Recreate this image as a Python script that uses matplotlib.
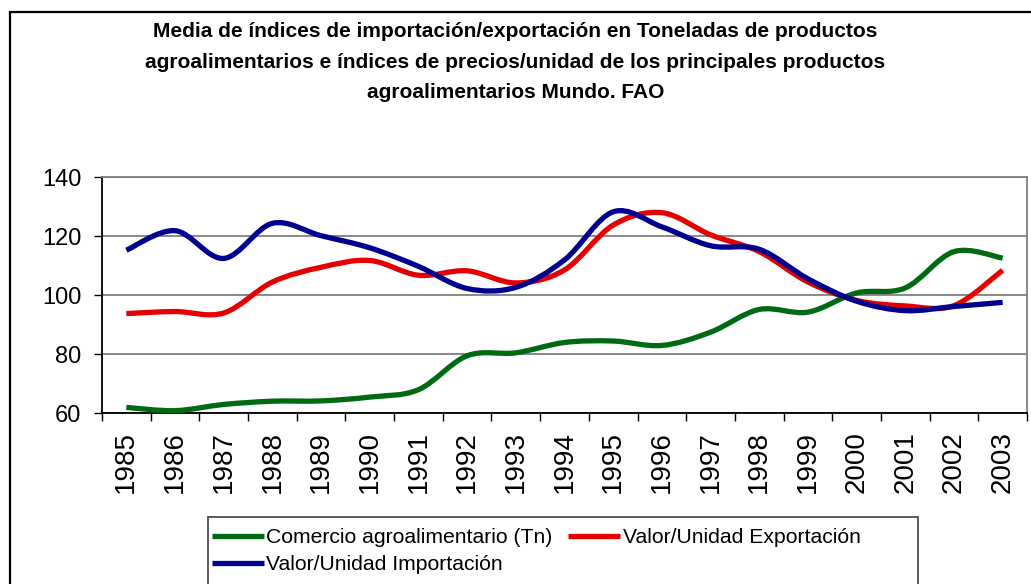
import matplotlib
matplotlib.use('Agg')
import matplotlib.pyplot as plt
from matplotlib.path import Path
from matplotlib.patches import PathPatch, Rectangle
from matplotlib.lines import Line2D

plt.rcParams['font.family'] = ['Liberation Sans', 'DejaVu Sans']

years = ['1985', '1986', '1987', '1988', '1989', '1990', '1991', '1992', '1993', '1994',
         '1995', '1996', '1997', '1998', '1999', '2000', '2001', '2002', '2003']

comercio = [62.0, 60.9, 63.0, 64.1, 64.2, 65.5, 68.0, 79.5, 80.5, 84.0,
            84.5, 83.0, 87.5, 95.2, 94.3, 100.8, 102.5, 114.8, 112.6]
exportacion = [93.8, 94.5, 94.0, 104.5, 109.5, 111.8, 106.8, 108.3, 104.2, 108.6,
               123.8, 128.0, 120.5, 114.8, 104.5, 98.3, 96.4, 96.5, 108.5]
importacion = [115.3, 121.9, 112.5, 124.4, 120.2, 116.1, 109.8, 102.3, 102.7, 112.0,
               128.3, 123.2, 116.8, 115.6, 105.6, 98.0, 94.8, 96.2, 97.6]

series = [
    ('Comercio agroalimentario (Tn)', comercio, '#006a12'),
    ('Valor/Unidad Exportación', exportacion, '#e40000'),
    ('Valor/Unidad Importación', importacion, '#00008e'),
]

title = ('Media de índices de importación/exportación en Toneladas de productos\n'
         'agroalimentarios e índices de precios/unidad de los principales productos\n'
         'agroalimentarios Mundo. FAO')

LW = 3.8


def smooth_path(xs, ys):
    # Excel style smoothed line: cubic bezier through every point
    n = len(xs)
    pts = list(zip(xs, ys))
    verts = [pts[0]]
    codes = [Path.MOVETO]
    for i in range(n - 1):
        p0 = pts[i - 1] if i > 0 else pts[i]
        p1 = pts[i]
        p2 = pts[i + 1]
        p3 = pts[i + 2] if i + 2 < n else pts[i + 1]
        c1 = (p1[0] + (p2[0] - p0[0]) / 6, p1[1] + (p2[1] - p0[1]) / 6)
        c2 = (p2[0] - (p3[0] - p1[0]) / 6, p2[1] - (p3[1] - p1[1]) / 6)
        verts += [c1, c2, p2]
        codes += [Path.CURVE4] * 3
    return Path(verts, codes)


fig = plt.figure(figsize=(10.31, 5.84), dpi=100)
W, H = 1031, 584

# outer chart border
fig.patches.append(Rectangle((10 / W, -0.1), 1.2, 1.1 - 12 / H,
                             transform=fig.transFigure, fill=False,
                             edgecolor='black', linewidth=1.6))

fig.text(0.5, 1 - 22 / H, title, ha='center', va='top', fontsize=15,
         fontweight='bold', linespacing=1.78)

ax = fig.add_axes([102 / W, 1 - 413.3 / H, 925 / W, 236 / H])
x = list(range(len(years)))
for name, vals, col in series:
    patch = PathPatch(smooth_path(x, vals), fill=False, edgecolor=col,
                      linewidth=LW, capstyle='butt', joinstyle='round',
                      transform=ax.transData, zorder=3)
    ax.add_patch(patch)

ax.set_xlim(-0.5, len(years) - 0.5)
ax.set_ylim(60, 140)
ax.set_yticks([60, 80, 100, 120, 140])
ax.yaxis.grid(True, color='#808080', linewidth=1.3)
ax.set_axisbelow(True)
ax.tick_params(axis='y', direction='out', length=6, width=1, labelsize=17, pad=9)

ax.set_xticks([i - 0.5 for i in range(len(years) + 1)])
ax.set_xticklabels([])
ax.tick_params(axis='x', which='major', direction='out', length=6, width=1)
ax.set_xticks(x, minor=True)
ax.set_xticklabels(years, minor=True, rotation=90, fontsize=20)
ax.tick_params(axis='x', which='minor', length=0, pad=13)

for s in ['left', 'bottom']:
    ax.spines[s].set_color('black')
    ax.spines[s].set_linewidth(1.3)
for s in ['top', 'right']:
    ax.spines[s].set_color('#808080')
    ax.spines[s].set_linewidth(1.3)

# legend box
fig.patches.append(Rectangle((208 / W, -0.1), (918 - 208) / W, 0.1 + 1 - 517 / H,
                             transform=fig.transFigure, fill=False,
                             edgecolor='#404040', linewidth=1.2))
handles = [Line2D([], [], color=c, linewidth=LW, solid_capstyle='butt') for _, _, c in series]
labels = [n for n, _, _ in series]
order = [0, 2, 1]
fig.legend([handles[i] for i in order], [labels[i] for i in order],
           loc='upper left', bbox_to_anchor=(212 / W, 1 - 528 / H), ncol=2,
           frameon=False, fontsize=15.2, handlelength=2.45, handletextpad=0.12,
           columnspacing=0.75, labelspacing=0.38, borderpad=0, borderaxespad=0)

fig.savefig('out.png', dpi=100)
